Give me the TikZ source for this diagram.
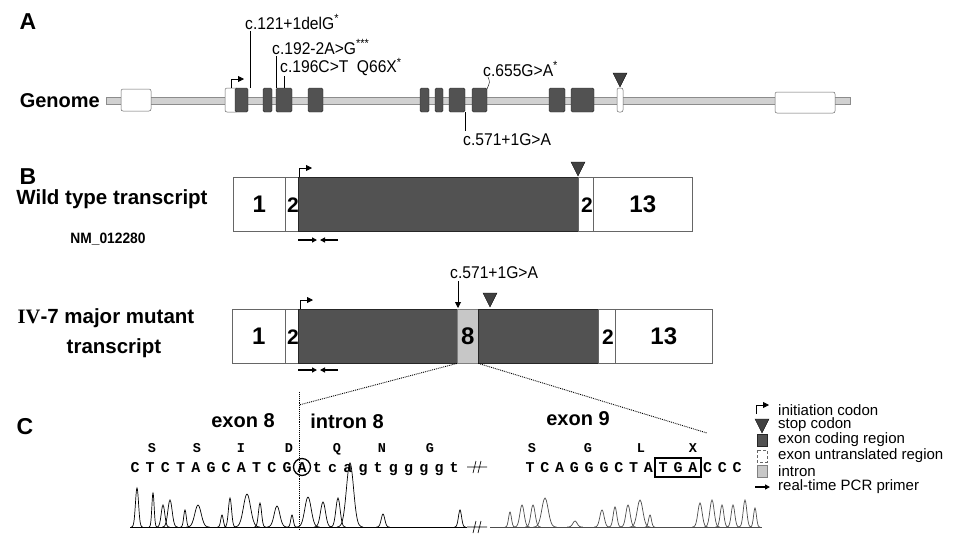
\documentclass[tikz,border=0pt]{standalone}
\usepackage{fontspec}
\setmainfont{Liberation Sans}
\newfontfamily\seqfont{Liberation Mono}
\newfontfamily\romfont{Liberation Serif}
\newfontfamily\narrowfont{Liberation Sans}[FakeStretch=0.92]
\usetikzlibrary{arrows.meta}
\newcommand{\fsz}[1]{\fontsize{#1}{#1}\selectfont}

\tikzset{
  stoptri/.pic={\path[fill=black!75, draw=black] (-7,0) -- (7,0) -- (0,14) -- cycle;},
  initarr/.pic={\draw[-{Triangle[length=6pt,width=6pt]}, line width=0.8pt] (0,0) -- (0,-9) -- (13,-9);},
  seqbreak/.pic={\draw[line width=0.7pt] (-10,0) -- (10,0) (-4,6) -- (-1,-6) (1,6) -- (4,-6);}
}

\begin{document}
\begin{tikzpicture}[x=1pt, y=-1pt,
  cds/.style={fill=black!68, draw=black!85, line width=0.4pt},
  utr/.style={fill=white, draw=black!60, line width=0.5pt},
  intr/.style={fill=black!22, draw=black!50, line width=0.4pt},
  panel/.style={font=\fsz{23}\bfseries, inner sep=0pt},
  mut/.style={font=\narrowfont\fsz{17}, inner sep=0pt, anchor=west},
  title/.style={font=\fsz{20.5}\bfseries, inner sep=0pt},
  num/.style={font=\fsz{24}\bfseries, inner sep=0pt},
  aa/.style={font=\seqfont\fsz{13.5}\bfseries, inner sep=0pt, anchor=base},
  nt/.style={font=\seqfont\fsz{15}\bfseries, inner sep=0pt, anchor=base},
  leg/.style={font=\fsz{15}, anchor=west, inner sep=0pt},
  primer/.style={-{Triangle[length=5pt,width=5pt]}, line width=1.6pt},
  zoomln/.style={densely dotted, line width=0.9pt},
  trace/.style={line width=0.7pt}
]
\useasboundingbox (0,0) rectangle (966,558);

% ---- A: genome
\node[panel] (pA) at (28,22) {A};
\node[font=\fsz{20}\bfseries, anchor=east, inner sep=0pt] (genome) at (100,101) {Genome};
\draw[fill=black!18, draw=black!45] (106,97) rectangle (850,104);
\draw[utr, rounded corners=2pt] (121,89) rectangle (151,111);
\draw[utr, rounded corners=2pt] (225,88) rectangle (238,112);
\foreach \l/\r in {235/248, 263/272, 276/292, 308/323, 420/429, 435/443,
                   449/465, 472/487, 549/565, 571/594}
  \draw[cds, rounded corners=1.5pt] (\l,88) rectangle (\r,112);
\draw[utr, rounded corners=2pt] (617,88) rectangle (623,112);
\draw[utr, rounded corners=2pt] (775,92) rectangle (835,113);
\pic at (231,88) {initarr};
\pic at (620,73) {stoptri};

\node[mut] (m121) at (245,22) {c.121+1delG\textsuperscript{*}};
\node[mut] (m192) at (272,47) {c.192-2A>G\textsuperscript{***}};
\node[mut] (m196) at (280,67) {c.196C>T\enspace Q66X\textsuperscript{*}};
\node[mut] (m655) at (483,69) {c.655G>A\textsuperscript{*}};
\node[mut] (m571) at (463,140) {c.571+1G>A};
\draw (250,31) -- (250,88);
\draw (276,56) -- (276,88);
\draw (284,76) -- (284,88);
\draw (488,77) .. controls (490,82) .. (487,89);
\draw (465,112) -- (465,131);

% ---- B: transcripts
\node[panel] (pB) at (28,177) {B};
\node[title] (wt) at (112,199) {Wild type transcript};
\node[font=\narrowfont\fsz{15}\bfseries, inner sep=0pt] (nm) at (108,239) {NM\_012280};

\node[utr, num, anchor=north west, minimum width=52, minimum height=54] (w1) at (233,177) {1};
\node[utr, anchor=north west, minimum width=13, minimum height=54] (w2) at (285,177) {};
\begin{scope}
  \clip (285,177) rectangle (298,231);
  \node[num, font=\fsz{21}\bfseries, anchor=west] at (287,205) {2};
\end{scope}
\node[cds, anchor=north west, minimum width=280, minimum height=54] (wcds) at (298,177) {};
\node[utr, anchor=north west, minimum width=15, minimum height=54] (w12) at (578,177) {};
\node[num, font=\fsz{21}\bfseries, anchor=east] at (593,205) {2};
\node[utr, num, anchor=north west, minimum width=99, minimum height=54] (w13) at (593,177) {13};
\pic at (299,177) {initarr};
\pic at (578,162) {stoptri};
\draw[primer] (298,240) -- (317,240);
\draw[primer] (338,240) -- (320,240);

\node[title] (mt1) at (106,318) {{\romfont\bfseries IV}-7 major mutant};
\node[title] (mt2) at (114,348) {transcript};

\node[utr, num, anchor=north west, minimum width=53, minimum height=54] (u1) at (232,309) {1};
\node[utr, anchor=north west, minimum width=13, minimum height=54] (u2) at (285,309) {};
\begin{scope}
  \clip (285,309) rectangle (298,363);
  \node[num, font=\fsz{21}\bfseries, anchor=west] at (287,337) {2};
\end{scope}
\node[cds, anchor=north west, minimum width=159, minimum height=54] (ucds1) at (298,309) {};
\node[intr, num, anchor=north west, minimum width=21, minimum height=54] (i8) at (457,309) {8};
\node[cds, anchor=north west, minimum width=120, minimum height=54] (ucds2) at (478,309) {};
\node[utr, anchor=north west, minimum width=17, minimum height=54] (u12) at (598,309) {};
\node[num, font=\fsz{21}\bfseries, anchor=east] at (614,337) {2};
\node[utr, num, anchor=north west, minimum width=97, minimum height=54] (u13) at (615,309) {13};
\pic at (300,309) {initarr};
\pic at (490,293) {stoptri};
\node[mut] (mu571) at (450,273) {c.571+1G>A};
\draw[-{Triangle[length=6pt,width=6pt]}, line width=0.9pt] (mu571.south west -| i8.north west) ++(1,2) -- (458,308);
\draw[primer] (298,370) -- (317,370);
\draw[primer] (338,370) -- (320,370);

% ---- zoom lines
\coordinate (j8) at (299,405);
\coordinate (e9r) at (707,433);
\draw[zoomln] (i8.south west) -- (j8);
\draw[zoomln] (i8.south east) -- (e9r);
\draw[zoomln] (299,392) -- (299,530);

% ---- C: sequence
\node[panel] (pC) at (25,427) {C};
\node[title, font=\fsz{20}\bfseries] (ex8) at (243,421) {exon 8};
\node[title, font=\fsz{20}\bfseries] (in8) at (347,421) {intron 8};
\node[title, font=\fsz{20}\bfseries] (ex9) at (578,419) {exon 9};

\foreach \a/\px in {S/152, S/197, I/241, D/289, Q/337, N/382, G/430,
                    S/532, G/588, L/641, X/693}
  \node[aa] at (\px,452) {\a};
\foreach \b [count=\i from 0] in {C,T,C,T,A,G,C,A,T,C,G,A,t,c,a,g,t,g,g,g,g,t}
  \node[nt] (n\i) at ({135+\i*15.2},472) {\b};
\foreach \b [count=\i from 0] in {T,C,A,G,G,G,C,T,A,T,G,A,C,C,C}
  \node[nt] (k\i) at ({530+\i*14.8},472) {\b};
\draw[line width=1.3pt] (302,467) circle (8.5);
\draw[line width=1.3pt] (655,458) rectangle (701,477);
\pic at (477,467) {seqbreak};

% ---- chromatogram
\draw[trace] (130,527) -- (467,527);
\draw[trace, black!70] (490,527) -- (762,527);
\foreach \px/\py/\pw in {137/488/2.2, 153/493/1.6, 163/505/2.5, 170/500/3,
    185/510/1.8, 198/505/4.5, 222/515/1.8, 230/498/2.2, 247/494/5,
    260/503/2.2, 277/506/4, 292/515/1.8, 308/497/4.5, 323/502/3.5,
    338/498/3, 350/463/5, 383/514/2.5, 460/510/2.2}
  \draw[trace] plot[domain=-2.6:2.6, samples=21, smooth]
    ({\px+\x*\pw}, {527-(527-\py)*exp(-\x*\x)});
\foreach \px/\py/\pw in {510/512/2, 522/505/3, 533/505/3, 545/498/4.5,
    575/521/3, 602/510/3, 615/507/2.5, 628/505/3, 640/500/4, 650/515/2,
    700/503/3, 712/500/3, 722/505/2.5, 733/505/2.5, 745/500/2.5, 755/508/2}
  \draw[trace, black!70] plot[domain=-2.6:2.6, samples=21, smooth]
    ({\px+\x*\pw}, {527-(527-\py)*exp(-\x*\x)});
\pic at (477,527) {seqbreak};

% ---- legend
\pic at (756,414) {initarr};
\pic at (762,419) {stoptri};
\draw[cds] (757,434) rectangle (767,446);
\draw[utr, densely dashed] (757,450) rectangle (767,462);
\draw[intr] (757,465) rectangle (767,477);
\draw[-{Triangle[length=5pt,width=5pt]}, line width=1.6pt] (755,487) -- (770,487);
\node[leg] (l1) at (778,410) {initiation codon};
\node[leg] (l2) at (778,425) {stop codon};
\node[leg] (l3) at (778,440) {exon coding region};
\node[leg] (l4) at (778,456) {exon untranslated region};
\node[leg] (l5) at (778,471) {intron};
\node[leg] (l6) at (778,487) {real-time PCR primer};
\end{tikzpicture}
\end{document}
